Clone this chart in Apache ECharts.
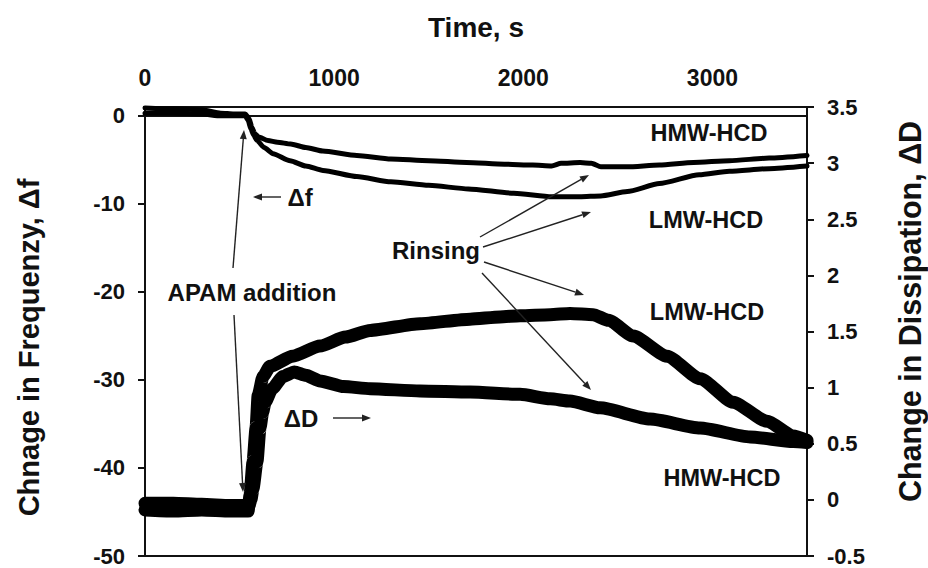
<!DOCTYPE html>
<html>
<head>
<meta charset="utf-8">
<script src="https://cdn.jsdelivr.net/npm/echarts@6/dist/echarts.min.js"></script>
<style>
  html, body { margin: 0; padding: 0; background: #fff; }
  #chart { width: 928px; height: 568px; }
</style>
</head>
<body>
<div id="chart"></div>
<script>
// ---- Data ----
const xTicks = [0, 1000, 2000, 3000];
const dfTicks = [-50, -40, -30, -20, -10, 0];
const dTicks = [-0.5, 0, 0.5, 1, 1.5, 2, 2.5, 3, 3.5];

// Change in frequency (left axis), [time s, Δf]
const dfHMW = [[0,0.9],[150,0.8],[300,0.7],[400,0.3],[470,0.2],[530,0.2],[550,-0.3],[565,-1.3],[580,-2.0],[600,-2.4],[650,-2.8],[700,-3.0],[770,-3.2],[850,-3.6],[940,-4.0],[1120,-4.5],[1300,-4.9],[1500,-5.1],[1700,-5.3],[1900,-5.5],[2050,-5.6],[2150,-5.7],[2200,-5.4],[2300,-5.3],[2360,-5.4],[2410,-5.8],[2550,-5.8],[2720,-5.6],[2900,-5.3],[3090,-5.1],[3300,-4.8],[3500,-4.5]];
const dfLMW = [[0,0.3],[150,0.3],[300,0.2],[400,0.0],[530,0.0],[545,-0.5],[560,-1.5],[575,-2.2],[592,-2.8],[630,-3.6],[677,-4.3],[767,-5.1],[850,-5.7],[941,-6.2],[1120,-6.9],[1300,-7.5],[1500,-7.9],[1710,-8.3],[1950,-8.8],[2150,-9.2],[2300,-9.2],[2410,-9.1],[2550,-8.6],[2720,-7.7],[2930,-6.7],[3090,-6.3],[3300,-6.0],[3500,-5.7]];

// Change in dissipation (right axis), [time s, ΔD]
const dHMW = [[0,-0.03],[150,-0.03],[300,-0.04],[450,-0.05],[550,-0.05],[560,0.0],[571,0.1],[592,0.34],[608,0.64],[622,0.78],[635,0.87],[672,0.99],[730,1.1],[790,1.14],[850,1.11],[925,1.06],[1050,1.01],[1190,0.99],[1454,0.97],[1719,0.96],[1983,0.94],[2142,0.9],[2247,0.88],[2406,0.82],[2670,0.72],[2935,0.64],[3199,0.56],[3427,0.52],[3500,0.51]];
const dLMW = [[0,-0.09],[150,-0.1],[300,-0.09],[450,-0.1],[545,-0.1],[555,0.04],[571,0.34],[587,0.64],[598,0.93],[624,1.1],[661,1.19],[780,1.28],[925,1.37],[1060,1.45],[1190,1.51],[1454,1.57],[1719,1.61],[1877,1.63],[1983,1.64],[2142,1.65],[2247,1.66],[2369,1.65],[2450,1.6],[2581,1.46],[2760,1.28],[2935,1.08],[3109,0.87],[3289,0.70],[3427,0.57],[3500,0.53]];

// ---- Chart ----
const FONT = '"Liberation Sans", Arial, Helvetica, sans-serif';
const INK = '#111';

function arrow(x1, y1, x2, y2) {
  const a = Math.atan2(y2 - y1, x2 - x1);
  const L = 9, W = 3.5;
  const bx = x2 - L * Math.cos(a), by = y2 - L * Math.sin(a);
  const px = -Math.sin(a) * W, py = Math.cos(a) * W;
  return [
    { type: 'line', z: 100, shape: { x1: x1, y1: y1, x2: bx, y2: by }, style: { stroke: '#222', lineWidth: 1.4 } },
    { type: 'polygon', z: 100, shape: { points: [[x2, y2], [bx + px, by + py], [bx - px, by - py]] }, style: { fill: '#222' } }
  ];
}
function label(text, x, y, size) {
  return { type: 'text', z: 100, x: x, y: y, style: { text: text, fill: INK, fontSize: size, fontWeight: 'bold', fontFamily: FONT, align: 'center', verticalAlign: 'middle' } };
}

const graphics = [].concat(
  [label('APAM addition', 252, 292, 24)],
  arrow(233, 268, 244, 130),
  arrow(234, 315, 243, 492),
  [label('\u0394f', 300, 197, 24)],
  arrow(281, 197, 253, 197),
  [label('\u0394D', 301, 418, 24)],
  arrow(333, 418, 371, 418),
  [label('Rinsing', 436, 250, 24)],
  arrow(480, 237, 589, 175),
  arrow(483, 247, 591, 212),
  arrow(484, 262, 584, 295),
  arrow(482, 273, 591, 390),
  [label('HMW-HCD', 709, 133, 23.5), label('LMW-HCD', 706, 220, 23.5), label('LMW-HCD', 707, 312, 23.5), label('HMW-HCD', 722, 478, 23.5)]
);

function line(name, data, yIdx, width) {
  return {
    name: name, type: 'line', data: data, yAxisIndex: yIdx, showSymbol: false,
    smooth: 0.2, smoothMonotone: 'x',
    lineStyle: { color: '#000', width: width, cap: 'round', join: 'round' }, silent: true, animation: false
  };
}

const chart = echarts.init(document.getElementById('chart'), null, { renderer: 'svg' });
chart.setOption({
  backgroundColor: '#fff',
  animation: false,
  grid: { left: 145, right: 121, top: 107, bottom: 12, outerBoundsMode: 'none', containLabel: false, show: true, borderColor: '#111', borderWidth: 2, backgroundColor: 'transparent' },
  xAxis: {
    type: 'value', position: 'top', min: 0, max: 3500,
    name: 'Time, s', nameLocation: 'middle', nameGap: 66,
    nameTextStyle: { fontSize: 28, fontWeight: 'bold', fontFamily: FONT, color: INK },
    axisLine: { show: true, lineStyle: { color: '#111', width: 2 } },
    axisTick: { show: false },
    splitLine: { show: false },
    axisLabel: { customValues: xTicks, formatter: function (v) { return String(v); }, margin: 18, fontSize: 23, fontWeight: 'bold', fontFamily: FONT, color: INK }
  },
  yAxis: [
    {
      type: 'value', position: 'left', min: -50, max: 1,
      name: 'Chnage in Frequenzy, \u0394f', nameLocation: 'middle', nameGap: 102, nameRotate: 90,
      nameTextStyle: { fontSize: 29, fontWeight: 'bold', fontFamily: FONT, color: INK, padding: [0, 32, 0, 0] },
      axisLine: { show: true, lineStyle: { color: '#111', width: 2 } },
      axisTick: { show: true, inside: false, length: 7, customValues: dfTicks, lineStyle: { color: '#111', width: 2 } },
      axisLabel: { customValues: dfTicks, margin: 20, fontSize: 22, lineHeight: 18, fontWeight: 'bold', fontFamily: FONT, color: INK },
      splitLine: { show: false }
    },
    {
      type: 'value', position: 'right', min: -0.5, max: 3.5, interval: 0.5,
      name: 'Change in Dissipation, \u0394D', nameLocation: 'middle', nameGap: 87, nameRotate: 90,
      nameTextStyle: { fontSize: 30.5, fontWeight: 'bold', fontFamily: FONT, color: INK, padding: [0, 0, 0, 40] },
      axisLine: { show: true, lineStyle: { color: '#111', width: 2 } },
      axisTick: { show: true, inside: false, length: 7, customValues: dTicks, lineStyle: { color: '#111', width: 2 } },
      axisLabel: { customValues: dTicks, margin: 20, fontSize: 22, lineHeight: 18, fontWeight: 'bold', fontFamily: FONT, color: INK },
      splitLine: { show: false }
    }
  ],
  series: [
    line('\u0394D HMW-HCD', dHMW, 1, 13),
    line('\u0394D LMW-HCD', dLMW, 1, 13),
    line('\u0394f HMW-HCD', dfHMW, 0, 5),
    line('\u0394f LMW-HCD', dfLMW, 0, 5)
  ],
  graphic: graphics
});
</script>
</body>
</html>
